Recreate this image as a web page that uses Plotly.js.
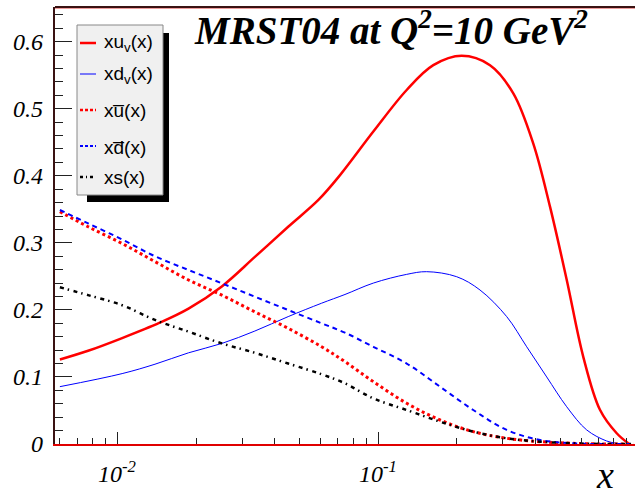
<!DOCTYPE html>
<html>
<head>
<meta charset="utf-8">
<script src="https://cdn.plot.ly/plotly-3.0.1.min.js"></script>
<style>
  html, body { margin: 0; padding: 0; background: #fff; }
  #chart { width: 635px; height: 498px; }
</style>
</head>
<body>
<div id="chart"></div>
<script>
// ---- data ----
const xuvX = [0.0060, 0.0077, 0.0104, 0.0145, 0.0187, 0.0251, 0.0336, 0.0451, 0.0589, 0.0713, 0.0957, 0.1285, 0.1626, 0.2089, 0.2683, 0.3296, 0.3933, 0.4559, 0.5284, 0.6117, 0.7088, 0.8219, 0.9106];
const xuvY = [0.126, 0.139, 0.158, 0.181, 0.202, 0.235, 0.279, 0.324, 0.364, 0.401, 0.466, 0.528, 0.565, 0.579, 0.565, 0.523, 0.448, 0.354, 0.245, 0.130, 0.051, 0.016, 0.001];

const xdvX = [0.0060, 0.0104, 0.0139, 0.0187, 0.0251, 0.0336, 0.0451, 0.0606, 0.0745, 0.0957, 0.1285, 0.1533, 0.1999, 0.2456, 0.3110, 0.3711, 0.4428, 0.5284, 0.6303, 0.7518, 0.8219];
const xdvY = [0.0855, 0.105, 0.119, 0.136, 0.150, 0.1685, 0.190, 0.210, 0.223, 0.240, 0.253, 0.257, 0.2495, 0.2297, 0.190, 0.145, 0.100, 0.0556, 0.021, 0.0045, 0.001];

const seaX   = [0.0060, 0.0077, 0.0104, 0.0139, 0.0187, 0.0251, 0.0336, 0.0451, 0.0606, 0.0745, 0.0957, 0.1285, 0.1725, 0.2314, 0.3110, 0.4174, 0.5585, 0.75, 0.95];
const xubarY = [0.3465, 0.324, 0.299, 0.272, 0.2446, 0.222, 0.197, 0.1725, 0.145, 0.1228, 0.093, 0.0607, 0.0358, 0.0184, 0.0085, 0.0035, 0.001, 0.0, 0.0];
const xdbarY = [0.349, 0.329, 0.305, 0.280, 0.2595, 0.2397, 0.2197, 0.1998, 0.180, 0.166, 0.145, 0.120, 0.0855, 0.0507, 0.021, 0.006, 0.001, 0.0, 0.0];
const xsY    = [0.2337, 0.222, 0.207, 0.185, 0.1675, 0.150, 0.136, 0.120, 0.104, 0.0905, 0.068, 0.0507, 0.0333, 0.0184, 0.0085, 0.0035, 0.001, 0.0, 0.0];

const seriesNames = ["xu<sub>v</sub>(x)", "xd<sub>v</sub>(x)", "xu\u0305(x)", "xd\u0305(x)", "xs(x)"];
const xTickVals = [0.01, 0.1];
const xTickText = ["10<sup>-2</sup>", "10<sup>-1</sup>"];
const xMinorVals = [0.006, 0.007, 0.008, 0.009, 0.02, 0.03, 0.04, 0.05, 0.06, 0.07, 0.08, 0.09, 0.2, 0.3, 0.4, 0.5, 0.6, 0.7, 0.8, 0.9];
const yTickVals = [0, 0.1, 0.2, 0.3, 0.4, 0.5, 0.6];
const yTickText = ["0", "0.1", "0.2", "0.3", "0.4", "0.5", "0.6"];
const titleText = "MRST04 at Q<sup>2</sup>=10 GeV<sup>2</sup>";

// ---- styles ----
const SERIF = "'Liberation Serif', 'Times New Roman', serif";
const SANS = "'Liberation Sans', Arial, sans-serif";
const styles = [
  {color: "#ff0000", width: 2.5, dash: "solid"},
  {color: "#0000ff", width: 1, dash: "solid"},
  {color: "#ff0000", width: 3, dash: "3px,3px"},
  {color: "#0000ff", width: 2, dash: "5px,4px"},
  {color: "#000000", width: 2.5, dash: "4px,4px,1.5px,4.5px"}
];
const xs = [xuvX, xdvX, seaX, seaX, seaX];
const ys = [xuvY, xdvY, xubarY, xdbarY, xsY];

const traces = xs.map((x, i) => ({
  x: x, y: ys[i], type: "scatter", mode: "lines",
  name: seriesNames[i],
  line: {color: styles[i].color, width: styles[i].width, dash: styles[i].dash, shape: "spline", smoothing: 1},
  showlegend: false, hoverinfo: "skip"
}));

// plot area geometry (pixels)
const W = 635, H = 498;
const L = 55, R = 635, T = 7, B = 444;
const px = v => (v - L) / (R - L);
const py = v => (B - v) / (B - T);

const shapes = [];
const annotations = [];
// top frame line
shapes.push({type: "line", xref: "paper", yref: "paper", x0: 0, x1: 1, y0: 1, y1: 1, line: {color: "#3a1212", width: 2}});
shapes.push({type: "line", xref: "paper", yref: "paper", x0: 0, x1: 1, y0: py(T + 1.5), y1: py(T + 1.5), line: {color: "rgba(220,60,60,0.5)", width: 1}});

// legend shadow + box
shapes.push({type: "rect", xref: "paper", yref: "paper", x0: px(87), x1: px(169), y0: py(202), y1: py(33), fillcolor: "#000", line: {width: 0}});
shapes.push({type: "rect", xref: "paper", yref: "paper", x0: px(77), x1: px(163), y0: py(195), y1: py(25), fillcolor: "#f0f0f0", line: {color: "#888", width: 1}});
const legRows = [43, 74, 110, 146, 177];
const legText = [43, 75, 110, 148, 177];
const legDash = ["solid", "solid", "3px,2px", "3px,2px", "3px,3px,1px,3px"];
legRows.forEach((yy, i) => {
  shapes.push({type: "line", xref: "paper", yref: "paper", x0: px(80), x1: px(96), y0: py(yy), y1: py(yy),
    line: {color: styles[i].color, width: Math.min(styles[i].width, 2.5), dash: legDash[i]}});
  annotations.push({xref: "paper", yref: "paper", x: px(102), y: py(legText[i]), xanchor: "left", yanchor: "middle",
    text: seriesNames[i], showarrow: false, font: {family: SANS, size: 19, color: "#000", style: "normal"}});
});

const tickFont = {family: SERIF, size: 24, style: "italic", color: "#000"};

// tick labels placed through the axes' own data coordinates
yTickVals.forEach((v, i) => {
  annotations.push({xref: "paper", yref: "y", x: px(44), y: v, xanchor: "right", yanchor: "middle",
    text: yTickText[i], showarrow: false, borderpad: 0, font: tickFont});
});
xTickVals.forEach((v, i) => {
  annotations.push({xref: "x", yref: "paper", x: Math.log10(v), y: py(456), xanchor: "center", yanchor: "top",
    text: xTickText[i], showarrow: false, borderpad: 0, font: tickFont});
});

// x axis label
annotations.push({xref: "paper", yref: "paper", x: px(605), y: py(497), xanchor: "center", yanchor: "bottom",
  text: "x", showarrow: false, borderpad: 0, font: {family: SERIF, size: 38, style: "italic", color: "#000"}});

const layout = {
  width: W, height: H,
  margin: {l: L, r: W - R, t: T, b: H - B, pad: 0},
  paper_bgcolor: "#fff", plot_bgcolor: "#fff",
  font: {family: SERIF, size: 22, style: "italic", color: "#000"},
  title: {
    text: titleText,
    font: {family: SERIF, size: 39, weight: "bold", style: "italic", color: "#000"},
    xref: "container", yref: "container", x: 195 / W, xanchor: "left", y: 1 - 17 / H, yanchor: "top"
  },
  xaxis: {
    type: "log",
    range: [-2 + (L - 117.7) / 260.6, -2 + (R - 117.7) / 260.6],
    tickmode: "array", tickvals: xTickVals, ticktext: xTickText,
    ticks: "inside", ticklen: 12, tickwidth: 1, tickcolor: "#222",
    minor: {tickmode: "array", tickvals: xMinorVals, ticks: "inside", ticklen: 6, tickwidth: 1, tickcolor: "#222", showgrid: false},
    showgrid: false, zeroline: false, showticklabels: false,
    showline: true, linecolor: "#e00000", linewidth: 1.5
  },
  yaxis: {
    range: [0, (B - T) / 670.5],
    tickmode: "array", tickvals: yTickVals, ticktext: yTickText,
    ticks: "inside", ticklen: 17, tickwidth: 1, tickcolor: "#222",
    minor: {dtick: 0.02, tick0: 0, ticks: "inside", ticklen: 8, tickwidth: 1, tickcolor: "#222", showgrid: false},
    showgrid: false, zeroline: false, showticklabels: false,
    showline: true, linecolor: "#3a1212", linewidth: 2
  },
  shapes: shapes,
  annotations: annotations,
  showlegend: false
};

Plotly.newPlot("chart", traces, layout, {displayModeBar: false, staticPlot: true});
</script>
</body>
</html>
